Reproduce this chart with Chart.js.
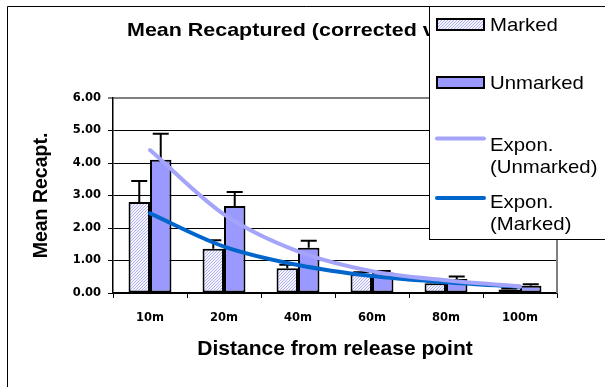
<!DOCTYPE html>
<html><head><meta charset="utf-8">
<script src="https://cdn.jsdelivr.net/npm/chart.js@4/dist/chart.umd.min.js"></script>
<style>html,body{margin:0;padding:0;background:#fff;overflow:hidden}#c{display:block}</style>
</head><body>
<canvas id="c" width="605" height="387"></canvas>
<script>
const categories = ['10m','20m','40m','60m','80m','100m'];
const markedValues = [2.80, 1.36, 0.76, 0.58, 0.30, 0.11];
const markedErrors = [0.65, 0.26, 0.11, 0.06, 0.04, 0.03];
const unmarkedValues = [4.10, 2.68, 1.39, 0.63, 0.43, 0.22];
const unmarkedErrors = [0.80, 0.43, 0.22, 0.05, 0.08, 0.05];
const unmarkedTrend = [4.40, 2.42, 1.28, 0.67, 0.39, 0.20];
const markedTrend = [2.45, 1.43, 0.86, 0.52, 0.33, 0.19];
const yTicks = [0, 1, 2, 3, 4, 5, 6];
const chartTitle = 'Mean Recaptured (corrected values)';
const xTitle = 'Distance from release point';
const yTitle = 'Mean Recapt.';
const legendLines = [['Marked'], ['Unmarked'], ['Expon.', '(Unmarked)'], ['Expon.', '(Marked)']];

const canvas = document.getElementById('c');
const ctx = canvas.getContext('2d');

function makeHatch() {
  const p = document.createElement('canvas');
  p.width = 3; p.height = 3;
  const g = p.getContext('2d');
  g.fillStyle = '#f4f4ff'; g.fillRect(0, 0, 3, 3);
  g.fillStyle = '#b0b0f4';
  for (let i = 0; i < 3; i++) g.fillRect(i, 2 - i, 1, 1);
  return ctx.createPattern(p, 'repeat');
}
const hatch = makeHatch();

const frame = {
  id: 'frame',
  beforeDraw(chart) {
    const c = chart.ctx;
    c.save();
    c.fillStyle = '#fff'; c.fillRect(0, 0, chart.width, chart.height);
    c.strokeStyle = '#000'; c.lineWidth = 1;
    c.beginPath(); c.moveTo(7.5, chart.height + 2); c.lineTo(7.5, 6.5); c.lineTo(chart.width + 2, 6.5); c.stroke();
    c.restore();
  },
  beforeDatasetsDraw(chart) {
    const a = chart.chartArea, c = chart.ctx;
    c.save(); c.strokeStyle = '#808080'; c.lineWidth = 2;
    c.beginPath(); c.moveTo(a.right, a.top - 1); c.lineTo(a.right, a.bottom); c.stroke();
    c.restore();
  }
};

const errorBars = {
  id: 'errorBars',
  afterDatasetDraw(chart, args) {
    const ds = chart.data.datasets[args.index];
    if (!ds.errors) return;
    const ys = chart.scales.y, c = chart.ctx;
    c.save(); c.strokeStyle = '#000'; c.lineWidth = 2;
    args.meta.data.forEach((bar, i) => {
      const v = ds.data[i], e = ds.errors[i];
      if (!e) return;
      const x = bar.x, y0 = ys.getPixelForValue(v), y1 = ys.getPixelForValue(v + e);
      c.beginPath(); c.moveTo(x, y0); c.lineTo(x, y1);
      c.moveTo(x - 8, y1); c.lineTo(x + 8, y1); c.stroke();
    });
    c.restore();
  }
};

const titleLegend = {
  id: 'titleLegend',
  afterDraw(chart) {
    const c = chart.ctx;
    c.save();
    c.fillStyle = '#000'; c.textAlign = 'left'; c.textBaseline = 'alphabetic';
    c.font = 'bold 18.5px "Liberation Sans", Arial, sans-serif';
    c.save(); c.translate(127, 36); c.scale(1.16, 1); c.fillText(chartTitle, 0, 0); c.restore();
    // legend box
    c.fillStyle = '#fff'; c.fillRect(429.5, 6.5, chart.width, 233);
    c.strokeStyle = '#000'; c.lineWidth = 1; c.strokeRect(429.5, 6.5, chart.width, 233);
    const ds = chart.data.datasets;
    const swatchY = [19, 77];
    const textBase = [[31], [89], [151, 173], [208, 230]];
    const lineY = [138.5, 198];
    c.font = '18.5px "Liberation Sans", Arial, sans-serif';
    ds.forEach((d, i) => {
      if (i < 2) {
        c.fillStyle = d.backgroundColor; c.fillRect(437, swatchY[i], 47, 11);
        c.strokeStyle = '#000'; c.lineWidth = 2; c.strokeRect(437, swatchY[i], 47, 11);
      } else {
        c.strokeStyle = d.borderColor; c.lineWidth = 4; c.lineCap = 'round';
        c.beginPath(); c.moveTo(437, lineY[i - 2]); c.lineTo(484, lineY[i - 2]); c.stroke();
      }
      c.fillStyle = '#000';
      legendLines[i].forEach((t, k) => {
        c.save(); c.translate(490, textBase[i][k]); c.scale(1.1, 1); c.fillText(t, 0, 0); c.restore();
      });
    });
    c.restore();
  }
};

const tickFont = { family: '"DejaVu Sans", sans-serif', size: 11.5, weight: 'bold' };

new Chart(ctx, {
  type: 'bar',
  data: {
    labels: categories,
    datasets: [
      { label: 'Marked', data: markedValues, errors: markedErrors, backgroundColor: hatch,
        borderColor: '#000', borderWidth: 2, borderSkipped: false, order: 1 },
      { label: 'Unmarked', data: unmarkedValues, errors: unmarkedErrors, backgroundColor: '#9999ff',
        borderColor: '#000', borderWidth: 2, borderSkipped: false, order: 1 },
      { type: 'line', label: 'Expon. (Unmarked)', data: unmarkedTrend, borderColor: '#a4a4fa',
        borderWidth: 4, pointRadius: 0, cubicInterpolationMode: 'monotone', fill: false, order: 0, borderCapStyle: 'round' },
      { type: 'line', label: 'Expon. (Marked)', data: markedTrend, borderColor: '#0066cc',
        borderWidth: 4, pointRadius: 0, cubicInterpolationMode: 'monotone', fill: false, order: 0, borderCapStyle: 'round' }
    ]
  },
  options: {
    responsive: false, animation: false, devicePixelRatio: 1,
    datasets: { bar: { categoryPercentage: 0.58, barPercentage: 1.0 } },
    layout: { padding: { left: 0, top: 98, right: 48, bottom: 0 } },
    plugins: { legend: { display: false }, title: { display: false }, tooltip: { enabled: false } },
    scales: {
      x: {
        grid: { display: true, drawOnChartArea: false, offset: true, tickLength: 5, color: '#000', lineWidth: 1 },
        border: { color: '#000', width: 1.5 },
        ticks: { color: '#000', font: tickFont, padding: 13, maxRotation: 0, autoSkip: false },
        title: { display: true, text: xTitle, color: '#000',
          font: { family: '"Liberation Sans", Arial, sans-serif', size: 21, weight: 'bold' },
          padding: { top: 0, bottom: 25 } },
        afterFit(s) { s.height = 94; }
      },
      y: {
        min: 0, max: 6,
        afterBuildTicks(s) { s.ticks = yTicks.map(v => ({ value: v })); },
        ticks: { color: '#000', font: tickFont, padding: 7, callback: v => Number(v).toFixed(2) },
        grid: {
          color: c => (c.tick && c.tick.value === 6) ? '#808080' : '#000',
          lineWidth: c => (c.tick && c.tick.value === 6) ? 2 : 1,
          tickLength: 5
        },
        border: { color: '#000', width: 1.5 },
        title: { display: true, text: yTitle, color: '#000',
          font: { family: '"Liberation Sans", Arial, sans-serif', size: 19.5, weight: 'bold' },
          padding: { top: 30, bottom: 0 } },
        afterFit(s) { s.width = 113; }
      }
    }
  },
  plugins: [frame, errorBars, titleLegend]
});
</script>
</body></html>
